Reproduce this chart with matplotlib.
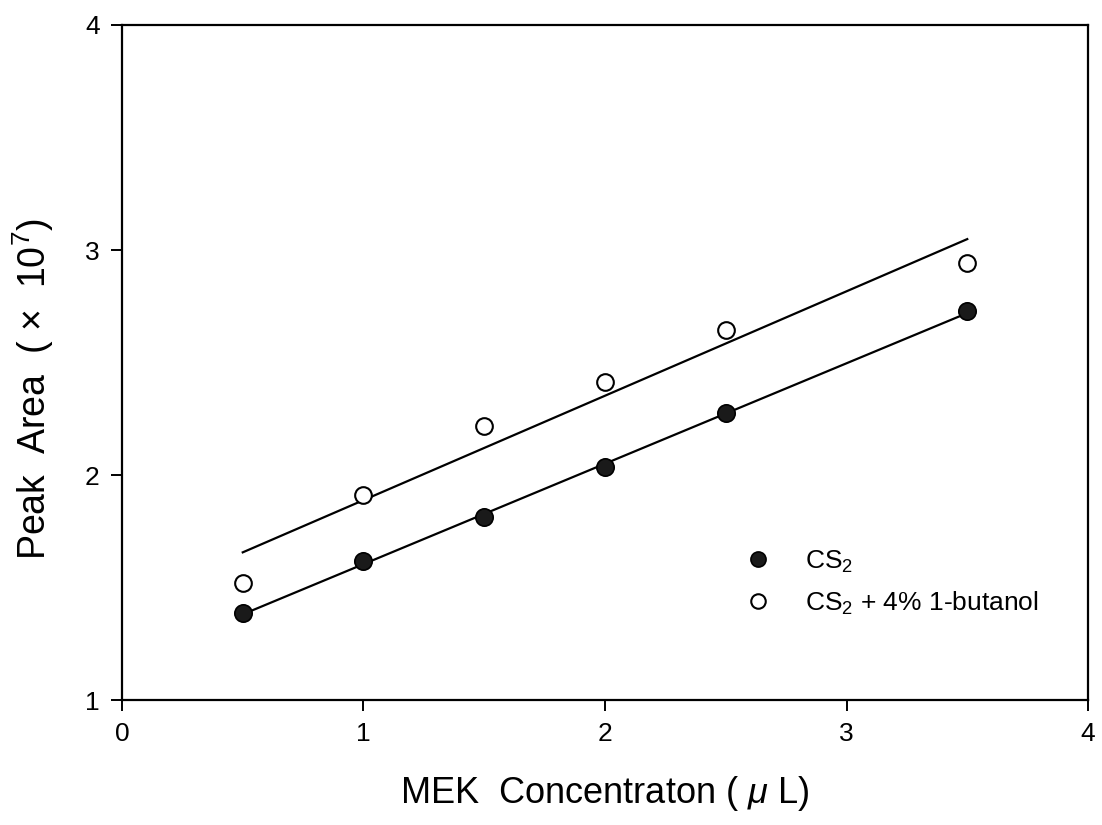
import numpy as np
import matplotlib
matplotlib.use("Agg")
import matplotlib.pyplot as plt

# ------------------------------------------------------------
# data
# ------------------------------------------------------------
mek_conc = [0.5, 1.0, 1.5, 2.0, 2.5, 3.5]
area_cs2 = [1.385, 1.618, 1.815, 2.034, 2.274, 2.729]
area_cs2_butanol = [1.521, 1.911, 2.218, 2.415, 2.644, 2.941]

series_labels = ["CS$_2$", "CS$_2$ + 4% 1-butanol"]
x_ticks = [0, 1, 2, 3, 4]
y_ticks = [1, 2, 3, 4]

# ------------------------------------------------------------
# style
# ------------------------------------------------------------
plt.rcParams["font.family"] = ["Liberation Sans", "DejaVu Sans"]
plt.rcParams["mathtext.fontset"] = "custom"
plt.rcParams["mathtext.rm"] = "Liberation Sans"
plt.rcParams["mathtext.it"] = "Liberation Sans:italic"

fig = plt.figure(figsize=(11.02, 8.25), dpi=100)
ax = fig.add_axes([0.1107, 0.1515, 0.8766, 0.8182])

# linear fits drawn over the measured range
for y_vals in (area_cs2, area_cs2_butanol):
    slope, icpt = np.polyfit(mek_conc, y_vals, 1)
    xs = np.array([mek_conc[0], mek_conc[-1]])
    ax.plot(xs, slope * xs + icpt, color="black", lw=1.6, zorder=2)

ax.plot(mek_conc, area_cs2, "o", ms=12.5, mfc="#1a1a1a", mec="black",
        mew=1.2, ls="none", label=series_labels[0], zorder=3)
ax.plot(mek_conc, area_cs2_butanol, "o", ms=12, mfc="white", mec="black",
        mew=1.5, ls="none", label=series_labels[1], zorder=3)

ax.set_xlim(0, 4)
ax.set_ylim(1, 4)
ax.set_xticks(x_ticks)
ax.set_yticks(y_ticks)
ax.tick_params(direction="out", length=8, width=1.4, labelsize=19, pad=8)

for sp in ax.spines.values():
    sp.set_linewidth(1.6)

ax.set_xlabel("MEK  Concentraton ( $\\mu$ L)", fontsize=26, labelpad=20)
ax.set_ylabel("Peak  Area  ( $\\times$  10$^7$)", fontsize=27)
ax.yaxis.set_label_coords(-0.068, 0.461)

ax.legend(loc="center left", bbox_to_anchor=(0.645, 0.174), frameon=False,
          fontsize=19, handlelength=1.0, handletextpad=1.27,
          labelspacing=0.55, borderpad=0, borderaxespad=0, markerscale=0.87)

fig.savefig("out.png", dpi=100)
